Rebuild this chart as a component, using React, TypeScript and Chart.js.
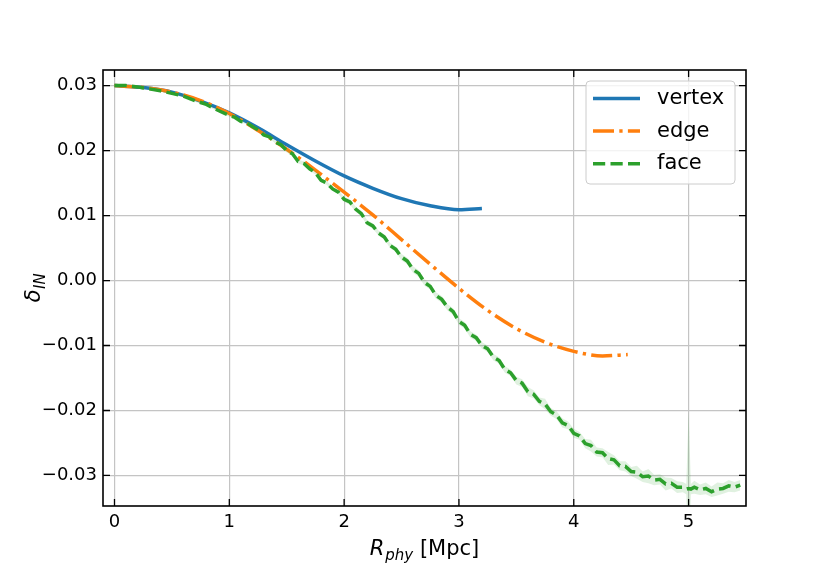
import { useEffect, useRef } from "react";
import { Chart, registerables } from "chart.js";
Chart.register(...registerables);

// ---- data ----
const vertexX = [0, 0.25, 0.5, 0.75, 1.0, 1.25, 1.5, 1.75, 2.0, 2.25, 2.5, 2.75, 3.0, 3.2];
const vertexY = [0.03, 0.0297, 0.029, 0.0276, 0.0258, 0.0235, 0.0209, 0.0184, 0.0161, 0.0142, 0.0126, 0.0115, 0.0109, 0.0111];

const edgeX = [0, 0.25, 0.5, 0.75, 1.0, 1.25, 1.5, 1.75, 2.0, 2.25, 2.5, 2.75, 3.0, 3.25, 3.5, 3.75, 4.0, 4.25, 4.47];
const edgeY = [0.03, 0.0297, 0.029, 0.0277, 0.0257, 0.0231, 0.0202, 0.017, 0.0136, 0.0101, 0.0063, 0.0025, -0.0012, -0.0046, -0.0074, -0.0095, -0.0109, -0.0116, -0.0114];

const faceX = [
  0, 0.1, 0.2, 0.3, 0.4, 0.5, 0.6, 0.7, 0.8, 0.9,
  1, 1.05, 1.1, 1.15, 1.2, 1.25, 1.3, 1.35, 1.4, 1.45,
  1.5, 1.55, 1.6, 1.65, 1.7, 1.75, 1.8, 1.85, 1.9, 1.95,
  2, 2.05, 2.1, 2.15, 2.2, 2.25, 2.3, 2.35, 2.4, 2.45,
  2.5, 2.55, 2.6, 2.65, 2.7, 2.75, 2.8, 2.85, 2.9, 2.95,
  3, 3.05, 3.1, 3.15, 3.2, 3.25, 3.3, 3.35, 3.4, 3.45,
  3.5, 3.55, 3.6, 3.65, 3.7, 3.75, 3.8, 3.85, 3.9, 3.95,
  4, 4.05, 4.1, 4.15, 4.2, 4.25, 4.3, 4.35, 4.4, 4.45,
  4.5, 4.55, 4.6, 4.65, 4.7, 4.75, 4.8, 4.85, 4.9, 4.95,
  4.98, 5, 5.02, 5.05, 5.1, 5.15, 5.2, 5.25, 5.3, 5.35, 5.4, 5.45,
];
const faceY = [
  0.03, 0.03, 0.0298, 0.0295, 0.0292, 0.0288, 0.0284, 0.0277, 0.0271, 0.0262,
  0.0254, 0.0251, 0.0245, 0.0243, 0.0237, 0.0232, 0.0224, 0.0221, 0.0213, 0.0209,
  0.02, 0.0195, 0.0183, 0.018, 0.0172, 0.0166, 0.0154, 0.015, 0.0141, 0.0136,
  0.0125, 0.0121, 0.011, 0.0103, 0.0089, 0.0084, 0.0073, 0.0067, 0.0054, 0.0048,
  0.0036, 0.003, 0.0017, 0.0011, -0.0003, -0.0009, -0.0023, -0.0029, -0.0041, -0.0048,
  -0.0063, -0.0069, -0.0083, -0.0088, -0.01, -0.0105, -0.0118, -0.0123, -0.0137, -0.0142,
  -0.0154, -0.0158, -0.0171, -0.0175, -0.0186, -0.019, -0.0202, -0.0207, -0.0219, -0.0223,
  -0.0235, -0.0239, -0.0251, -0.0254, -0.0264, -0.0265, -0.0274, -0.0276, -0.0285, -0.0286,
  -0.0294, -0.0295, -0.0302, -0.0301, -0.0307, -0.0306, -0.0313, -0.0312, -0.0318, -0.0318,
  -0.0321, -0.032, -0.0321, -0.0318, -0.0322, -0.032, -0.0325, -0.0321, -0.032, -0.0316, -0.0318, -0.0315,
];
const faceErr = [
  0, 0.0001, 0.0001, 0.0001, 0.0001, 0.0002, 0.0002, 0.0002, 0.0002, 0.0002,
  0.0002, 0.0002, 0.0002, 0.0002, 0.0002, 0.0002, 0.0002, 0.0002, 0.0002, 0.0002,
  0.0003, 0.0003, 0.0003, 0.0003, 0.0003, 0.0003, 0.0003, 0.0003, 0.0003, 0.0003,
  0.0004, 0.0004, 0.0004, 0.0004, 0.0004, 0.0004, 0.0004, 0.0004, 0.0004, 0.0004,
  0.0005, 0.0005, 0.0005, 0.0005, 0.0005, 0.0005, 0.0005, 0.0005, 0.0005, 0.0005,
  0.0005, 0.0005, 0.0005, 0.0005, 0.0005, 0.0005, 0.0005, 0.0005, 0.0005, 0.0005,
  0.0006, 0.0006, 0.0007, 0.0006, 0.0006, 0.0008, 0.0006, 0.0006, 0.0007, 0.0006,
  0.0007, 0.0006, 0.0007, 0.0009, 0.0007, 0.0007, 0.001, 0.0007, 0.0007, 0.0008,
  0.0007, 0.001, 0.0008, 0.0011, 0.0008, 0.0008, 0.001, 0.0008, 0.0009, 0.0008,
  0.0008, 0.0118, 0.0008, 0.001, 0.0008, 0.0009, 0.0008, 0.001, 0.0008, 0.0009, 0.0008, 0.0008,
];

const xTicks = [0, 1, 2, 3, 4, 5];
const yTicks = [-0.03, -0.02, -0.01, 0, 0.01, 0.02, 0.03];
const seriesNames = ["vertex", "edge", "face"];

const FONT = "'DejaVu Sans', sans-serif";
const BLUE = "#1f77b4";
const ORANGE = "#ff7f0e";
const GREEN = "#2ca02c";
const LW = 3.5;
const EDGE_DASH = [21, 5.3, 3.3, 5.3];
const FACE_DASH = [12.2, 5.3];

function fmtY(v: number) {
  const s = Math.abs(v).toFixed(2);
  return v < -1e-9 ? "\u2212" + s : s;
}

const decorPlugin = {
  id: "decor",
  afterDraw(chart: any) {
    const { ctx, chartArea: a, scales } = chart;
    ctx.save();
    // inward ticks on all sides
    ctx.strokeStyle = "#000";
    ctx.lineWidth = 1.3;
    ctx.setLineDash([]);
    const TL = 7;
    ctx.beginPath();
    for (const v of xTicks) {
      const px = scales.x.getPixelForValue(v);
      ctx.moveTo(px, a.bottom);
      ctx.lineTo(px, a.bottom - TL);
      ctx.moveTo(px, a.top);
      ctx.lineTo(px, a.top + TL);
    }
    for (const v of yTicks) {
      const py = scales.y.getPixelForValue(v);
      ctx.moveTo(a.left, py);
      ctx.lineTo(a.left + TL, py);
      ctx.moveTo(a.right, py);
      ctx.lineTo(a.right - TL, py);
    }
    ctx.stroke();
    // frame
    ctx.lineWidth = 1.6;
    ctx.strokeRect(a.left, a.top, a.right - a.left, a.bottom - a.top);

    // legend
    const bw = 149, bh = 103;
    const bx = a.right - 11 - bw, by = a.top + 11;
    ctx.beginPath();
    const r = 4;
    ctx.moveTo(bx + r, by);
    ctx.lineTo(bx + bw - r, by);
    ctx.quadraticCurveTo(bx + bw, by, bx + bw, by + r);
    ctx.lineTo(bx + bw, by + bh - r);
    ctx.quadraticCurveTo(bx + bw, by + bh, bx + bw - r, by + bh);
    ctx.lineTo(bx + r, by + bh);
    ctx.quadraticCurveTo(bx, by + bh, bx, by + bh - r);
    ctx.lineTo(bx, by + r);
    ctx.quadraticCurveTo(bx, by, bx + r, by);
    ctx.closePath();
    ctx.fillStyle = "rgba(255,255,255,0.8)";
    ctx.fill();
    ctx.strokeStyle = "#cccccc";
    ctx.lineWidth = 1;
    ctx.stroke();
    const colors = [BLUE, ORANGE, GREEN];
    const dashes = [[], EDGE_DASH, FACE_DASH];
    ctx.font = "21px " + FONT;
    ctx.textBaseline = "middle";
    ctx.textAlign = "left";
    for (let i = 0; i < 3; i++) {
      const ly = by + 17.5 + i * 32.6;
      ctx.beginPath();
      ctx.setLineDash(dashes[i]);
      ctx.strokeStyle = colors[i];
      ctx.lineWidth = LW;
      ctx.moveTo(bx + 7, ly);
      ctx.lineTo(bx + 54, ly);
      ctx.stroke();
      ctx.setLineDash([]);
      ctx.fillStyle = "#000";
      ctx.fillText(seriesNames[i], bx + 71, ly);
    }

    // x axis title: R_phy [Mpc]
    const cx = (a.left + a.right) / 2;
    const base = 555;
    const fMain = "italic 21px " + FONT;
    const fSub = "italic 15px " + FONT;
    const fReg = "21px " + FONT;
    ctx.textBaseline = "alphabetic";
    ctx.font = fMain;
    const wR = ctx.measureText("R").width;
    ctx.font = fSub;
    const wSub = ctx.measureText("phy").width;
    ctx.font = fReg;
    const wRest = ctx.measureText(" [Mpc]").width;
    const x0 = cx - (wR + wSub + 1 + wRest) / 2;
    ctx.fillStyle = "#000";
    ctx.font = fMain;
    ctx.fillText("R", x0, base);
    ctx.font = fSub;
    ctx.fillText("phy", x0 + wR + 1, base + 4.5);
    ctx.font = fReg;
    ctx.fillText(" [Mpc]", x0 + wR + 1 + wSub, base);

    // y axis title: delta_IN
    ctx.save();
    ctx.translate(40, (a.top + a.bottom) / 2);
    ctx.rotate(-Math.PI / 2);
    ctx.font = fMain;
    const wd = ctx.measureText("\u03b4").width;
    ctx.font = fSub;
    const wIN = ctx.measureText("IN").width;
    const sx = -(wd + wIN) / 2;
    ctx.font = fMain;
    ctx.fillText("\u03b4", sx, 0);
    ctx.font = fSub;
    ctx.fillText("IN", sx + wd + 0.5, 4.5);
    ctx.restore();

    ctx.restore();
  },
};

function pts(xs: number[], ys: number[]) {
  return xs.map((x, i) => ({ x, y: ys[i] }));
}

export default function App() {
  const ref = useRef<HTMLCanvasElement | null>(null);
  useEffect(() => {
    if (!ref.current) return;
    const chart = new Chart(ref.current, {
      type: "line",
      data: {
        datasets: [
          {
            label: "vertex",
            data: pts(vertexX, vertexY),
            borderColor: BLUE,
            borderWidth: LW,
            pointRadius: 0,
            cubicInterpolationMode: "monotone",
            fill: false,
            order: 3,
          },
          {
            label: "edge",
            data: pts(edgeX, edgeY),
            borderColor: ORANGE,
            borderWidth: LW,
            borderDash: EDGE_DASH,
            pointRadius: 0,
            cubicInterpolationMode: "monotone",
            fill: false,
            order: 2,
          },
          {
            label: "faceLower",
            data: pts(faceX, faceY.map((v, i) => v - faceErr[i])),
            borderWidth: 0,
            borderColor: "rgba(0,0,0,0)",
            pointRadius: 0,
            tension: 0,
            fill: false,
            order: 1,
          },
          {
            label: "faceUpper",
            data: pts(faceX, faceY.map((v, i) => v + faceErr[i])),
            borderWidth: 0,
            borderColor: "rgba(0,0,0,0)",
            backgroundColor: "rgba(44,160,44,0.15)",
            pointRadius: 0,
            tension: 0,
            fill: "-1",
            order: 1,
          },
          {
            label: "face",
            data: pts(faceX, faceY),
            borderColor: GREEN,
            borderWidth: LW,
            borderDash: FACE_DASH,
            pointRadius: 0,
            tension: 0,
            fill: false,
            order: 0,
          },
        ],
      },
      options: {
        animation: false,
        responsive: false,
        layout: { padding: { left: 0, top: 70, right: 84, bottom: 0 } },
        plugins: { legend: { display: false }, tooltip: { enabled: false } },
        scales: {
          x: {
            type: "linear",
            min: -0.1,
            max: 5.5,
            afterBuildTicks: (s: any) => {
              s.ticks = xTicks.map((v) => ({ value: v }));
            },
            afterFit: (s: any) => {
              s.height = 75;
            },
            grid: { color: "#c4c4c4", lineWidth: 1.2, drawTicks: false },
            border: { display: false },
            ticks: {
              padding: 6,
              color: "#000",
              font: { family: FONT, size: 18 },
              callback: (v: any) => String(v),
              maxRotation: 0,
            },
          },
          y: {
            type: "linear",
            min: -0.0347,
            max: 0.0324,
            afterBuildTicks: (s: any) => {
              s.ticks = yTicks.map((v) => ({ value: v }));
            },
            afterFit: (s: any) => {
              s.width = 103;
            },
            grid: { color: "#c4c4c4", lineWidth: 1.2, drawTicks: false },
            border: { display: false },
            ticks: {
              padding: 6,
              color: "#000",
              font: { family: FONT, size: 18 },
              callback: (v: any) => fmtY(Number(v)),
            },
          },
        },
      },
      plugins: [decorPlugin],
    } as any);
    return () => chart.destroy();
  }, []);
  return (
    <div style={{ position: "fixed", left: 0, top: 0, width: 830, height: 581, background: "#fff" }}>
      <canvas ref={ref} width={830} height={581} style={{ width: 830, height: 581 }} />
    </div>
  );
}
